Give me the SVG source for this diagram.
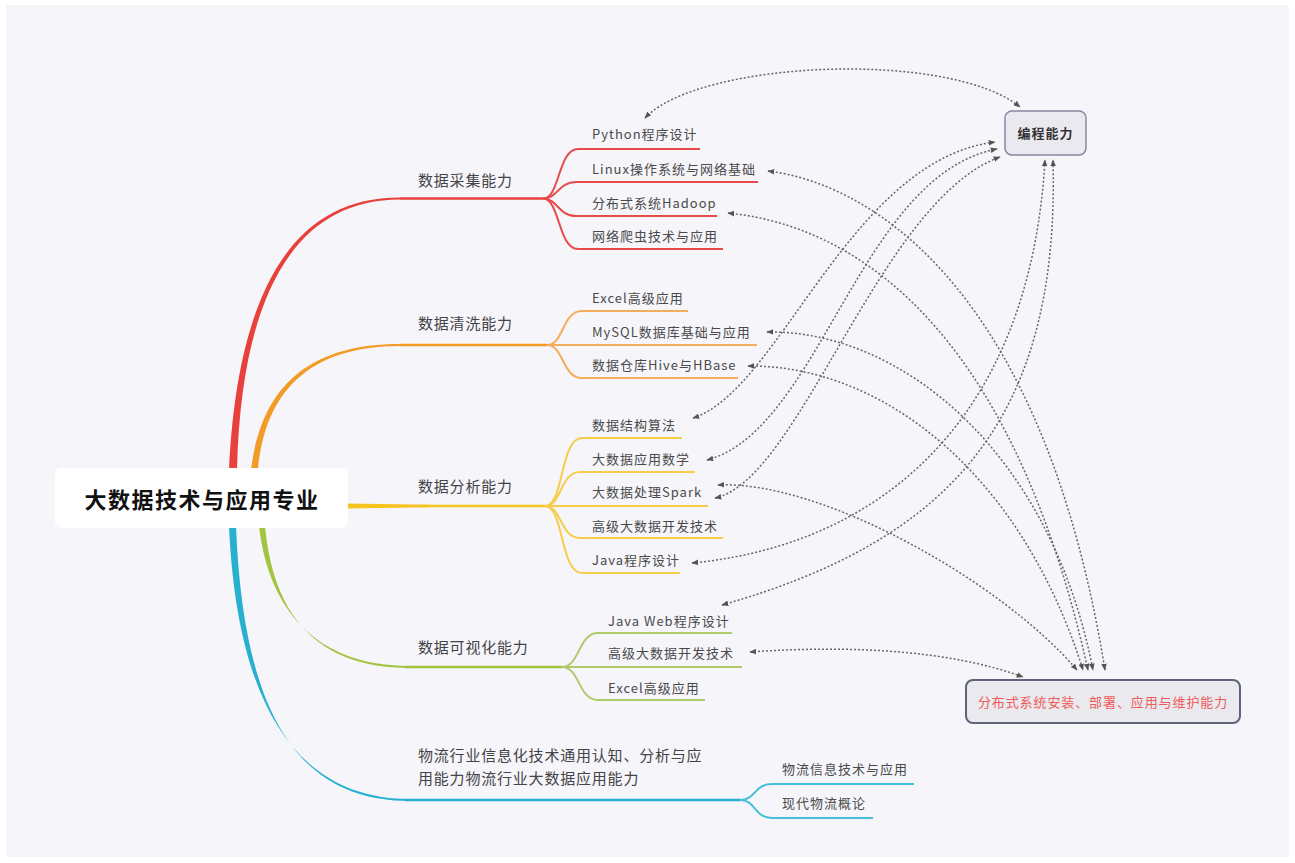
<svg xmlns="http://www.w3.org/2000/svg" width="1295" height="863" viewBox="0 0 1295 863">
<defs>
<marker id="ah" viewBox="0 0 10 10" refX="9" refY="5" markerWidth="7" markerHeight="7" markerUnits="userSpaceOnUse" orient="auto-start-reverse">
<path d="M0,1 L10,5 L0,9 Z" fill="#555"/>
</marker>
<style>
.bg{fill:#f5f5fa}
.lf{font-family:"Noto Sans CJK SC","Noto Sans",sans-serif;font-size:13px;letter-spacing:1px;fill:#4a4a4a}
.br{font-family:"Noto Sans CJK SC","Noto Sans",sans-serif;font-size:15px;letter-spacing:0.8px;fill:#444}
.root{font-family:"Noto Sans CJK SC","Noto Sans",sans-serif;font-size:22px;font-weight:bold;letter-spacing:1.5px;fill:#111}
.dash{fill:none;stroke:#666;stroke-width:1.5;stroke-dasharray:2 2;marker-start:url(#ah);marker-end:url(#ah)}
.r{stroke:#e8413c}.o{stroke:#f29b26}.y{stroke:#f6c41e}.g{stroke:#a3c43e}.b{stroke:#27b1cf}
.r2{stroke:#e84a4a}.o2{stroke:#f4ad5a}.y2{stroke:#f6cd4a}.g2{stroke:#afca6a}.b2{stroke:#45bfd8}
.ln{fill:none;stroke-width:2.5}
.ll{fill:none;stroke-width:2}
</style>
</defs>
<rect width="1295" height="863" fill="#ffffff"/>
<rect class="bg" x="6" y="5" width="1283" height="852"/>

<g id="branches">
<path d="M229,470 C237,300 288,197 400,197.6 L400,199.6 C292,199.6 241,300 237,470 Z" fill="#e8413c"/>
<path class="ln r" d="M400,198.6 L543,198.6"/>
<path d="M251,470 C261,390 305,344 400,344 L400,346 C309,346 265,392 258,470 Z" fill="#f29b26"/>
<path class="ln o" d="M400,345 L547,345"/>
<path d="M348,503.5 L430,504.8 L430,507.3 L348,508.5 Z" fill="#f6c41e"/>
<path class="ln y" d="M420,506 L545,506"/>
<path d="M259,526 C269,612 318,666 410,666 L410,668 C314,668 273,612 265,526 Z" fill="#a3c43e"/>
<path class="ln g" d="M405,667 L562,667"/>
<path d="M229,526 C237,704 296,799 410,799 L410,801 C292,801 243,704 236,526 Z" fill="#27b1cf"/>
<path class="ln b" d="M405,800 L740,800"/>
</g>

<g id="leaf-lines">
<path class="ll r2" d="M543,198.6 C560,198.6 558,149 578,149 L700,149"/>
<path class="ll r2" d="M543,198.6 C558,198.6 558,182 576,182 L758,182"/>
<path class="ll r2" d="M543,198.6 C558,198.6 558,216 576,216 L717,216"/>
<path class="ll r2" d="M543,198.6 C560,198.6 558,249 578,249 L723,249"/>

<path class="ll o2" d="M547,345 C564,345 562,311 582,311 L688,311"/>
<path class="ll o2" d="M547,345 L757,345"/>
<path class="ll o2" d="M547,345 C564,345 562,378 582,378 L738,378"/>

<path class="ll y2" d="M545,506 C564,506 560,438 582,438 L682,438"/>
<path class="ll y2" d="M545,506 C562,506 560,472 580,472 L695,472"/>
<path class="ll y2" d="M545,506 L708,506"/>
<path class="ll y2" d="M545,506 C562,506 560,538 580,538 L723,538"/>
<path class="ll y2" d="M545,506 C564,506 560,573 582,573 L680,573"/>

<path class="ll g2" d="M562,667 C580,667 578,633 598,633 L732,633"/>
<path class="ll g2" d="M562,667 L742,667"/>
<path class="ll g2" d="M562,667 C580,667 578,700 598,700 L705,700"/>

<path class="ll b2" d="M740,800 C756,800 754,784 772,784 L914,784"/>
<path class="ll b2" d="M740,800 C756,800 754,818 772,818 L873,818"/>
</g>

<g id="root">
<rect x="55" y="468" width="293" height="60" rx="6" fill="#ffffff"/>
<text class="root" x="202" y="508" text-anchor="middle">大数据技术与应用专业</text>
</g>

<g id="branch-labels">
<text class="br" x="418" y="186">数据采集能力</text>
<text class="br" x="418" y="329">数据清洗能力</text>
<text class="br" x="418" y="492">数据分析能力</text>
<text class="br" x="418" y="653">数据可视化能力</text>
<text class="br" x="418" y="761">物流行业信息化技术通用认知、分析与应</text>
<text class="br" x="418" y="784">用能力物流行业大数据应用能力</text>
</g>

<g id="leaves">
<text class="lf" x="592" y="139">Python程序设计</text>
<text class="lf" x="592" y="174">Linux操作系统与网络基础</text>
<text class="lf" x="592" y="208">分布式系统Hadoop</text>
<text class="lf" x="592" y="241">网络爬虫技术与应用</text>

<text class="lf" x="592" y="303">Excel高级应用</text>
<text class="lf" x="592" y="337">MySQL数据库基础与应用</text>
<text class="lf" x="592" y="370">数据仓库Hive与HBase</text>

<text class="lf" x="592" y="430">数据结构算法</text>
<text class="lf" x="592" y="464">大数据应用数学</text>
<text class="lf" x="592" y="497">大数据处理Spark</text>
<text class="lf" x="592" y="531">高级大数据开发技术</text>
<text class="lf" x="592" y="565">Java程序设计</text>

<text class="lf" x="608" y="626">Java Web程序设计</text>
<text class="lf" x="608" y="658">高级大数据开发技术</text>
<text class="lf" x="608" y="693">Excel高级应用</text>

<text class="lf" x="782" y="774">物流信息技术与应用</text>
<text class="lf" x="782" y="808">现代物流概论</text>
</g>

<g id="connectors">
<path class="dash" d="M645,118 C700,60 950,50 1020,107"/>
<path class="dash" d="M768,171 C880,185 1045,300 1105,670"/>
<path class="dash" d="M728,213 C850,225 1010,320 1088,670"/>
<path class="dash" d="M767,332 C900,330 1050,450 1093,670"/>
<path class="dash" d="M748,366 C880,365 1020,470 1083,670"/>
<path class="dash" d="M718,485 C820,480 1000,580 1077,670"/>
<path class="dash" d="M693,418 C780,390 850,160 995,142"/>
<path class="dash" d="M707,460 C820,430 860,175 997,149"/>
<path class="dash" d="M715,498 C800,480 880,200 1000,157"/>
<path class="dash" d="M692,563 C880,545 1030,420 1045,160"/>
<path class="dash" d="M722,605 C950,540 1060,420 1053,160"/>
<path class="dash" d="M750,652 C850,645 950,650 1023,677"/>
</g>

<g id="node-programming">
<rect x="1005" y="111" width="81" height="44" rx="7" fill="#ebe9f0" stroke="#8c86a0" stroke-width="1.5"/>
<text x="1045.5" y="138" text-anchor="middle" font-family="Noto Sans CJK SC, Noto Sans, sans-serif" font-size="13" font-weight="bold" letter-spacing="1" fill="#333">编程能力</text>
</g>

<g id="node-distributed">
<rect x="966" y="680" width="274" height="43" rx="7" fill="#e9e9ee" stroke="#5c6478" stroke-width="2"/>
<text x="1103" y="707" text-anchor="middle" font-family="Noto Sans CJK SC, Noto Sans, sans-serif" font-size="13" letter-spacing="0.9" fill="#f05a5a">分布式系统安装、部署、应用与维护能力</text>
</g>
</svg>
